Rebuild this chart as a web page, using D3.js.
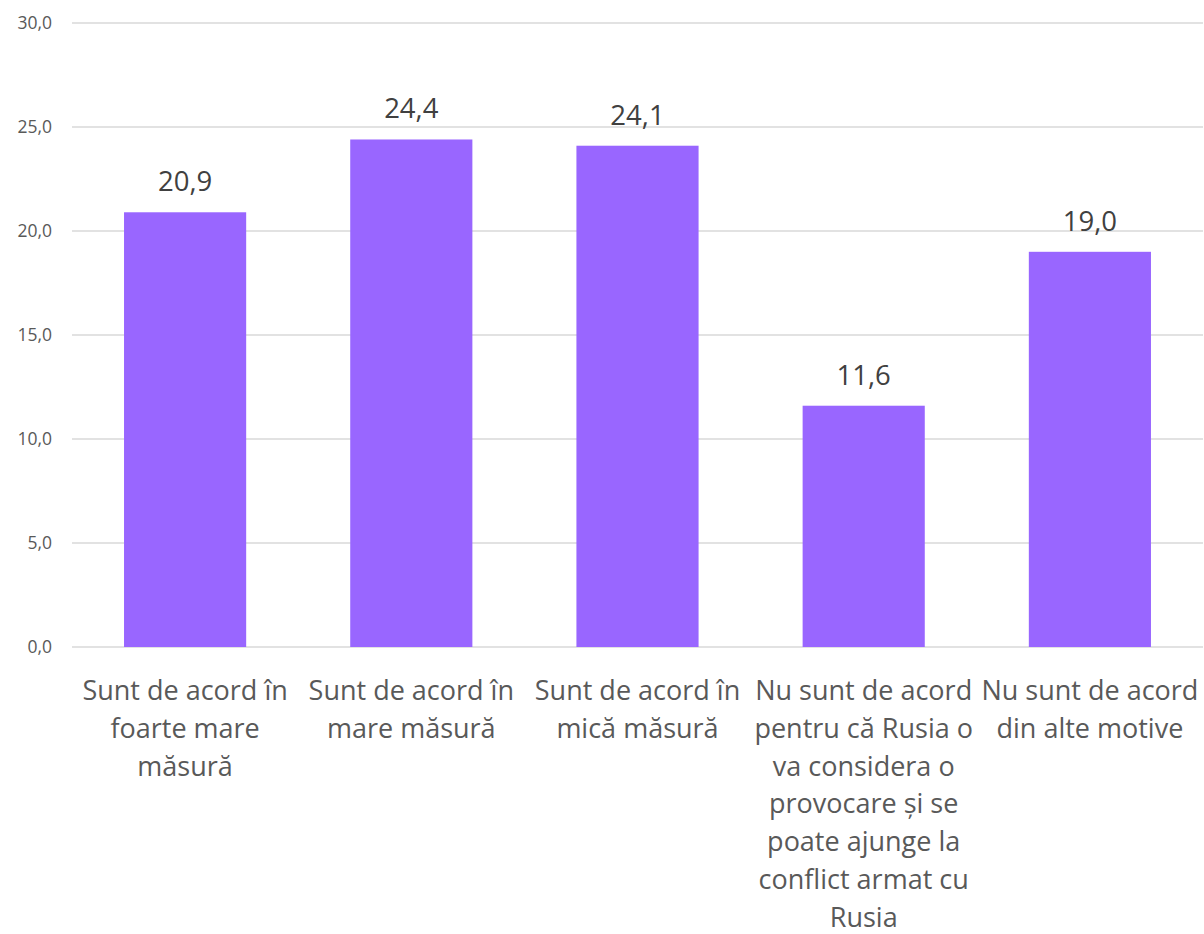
<!DOCTYPE html>
<html><head><meta charset="utf-8">
<script src="https://cdn.jsdelivr.net/npm/d3@7"></script>
<style>html,body{margin:0;padding:0;background:#fff}</style>
</head><body>
<svg id="c" width="1204" height="934"></svg>
<script>
const categories = [
  ["Sunt de acord în", "foarte mare", "măsură"],
  ["Sunt de acord în", "mare măsură"],
  ["Sunt de acord în", "mică măsură"],
  ["Nu sunt de acord", "pentru că Rusia o", "va considera o", "provocare și se", "poate ajunge la", "conflict armat cu", "Rusia"],
  ["Nu sunt de acord", "din alte motive"]
];
const values = [20.9, 24.4, 24.1, 11.6, 19.0];
const yTicks = [0, 5, 10, 15, 20, 25, 30];

(function () {
const svg = d3.select("#c");
const font = "'Open Sans', sans-serif";
const textColor = "#595959";
const mLeft = 72, mRight = 1203, mTop = 23, mBottom = 647;

const x = d3.scaleBand().domain(d3.range(values.length)).range([mLeft, mRight]).paddingInner(0.46).paddingOuter(0.23);
const y = d3.scaleLinear().domain([0, 30]).range([mBottom, mTop]);

const fmt = v => v.toFixed(1).replace(".", ",");

svg.append("g").selectAll("line").data(yTicks).join("line")
  .attr("x1", mLeft).attr("x2", mRight)
  .attr("y1", d => y(d)).attr("y2", d => y(d))
  .attr("stroke", "#d9d9d9").attr("stroke-width", 1.3);

const yAxis = d3.axisLeft(y).tickValues(yTicks).tickFormat(fmt).tickSize(0).tickPadding(20);
const ga = svg.append("g").attr("transform", `translate(${mLeft},0)`).call(yAxis);
ga.select(".domain").remove();
ga.selectAll("text").attr("font-family", font).attr("font-size", 17.5).attr("fill", textColor);

svg.append("g").selectAll("rect").data(values).join("rect")
  .attr("x", (d, i) => x(i)).attr("width", x.bandwidth())
  .attr("y", d => y(d)).attr("height", d => mBottom - y(d))
  .attr("fill", "#9966ff");

svg.append("g").selectAll("text").data(values).join("text")
  .attr("x", (d, i) => x(i) + x.bandwidth() / 2)
  .attr("y", d => y(d) - 21)
  .attr("text-anchor", "middle")
  .attr("font-family", font).attr("font-size", 27.5).attr("fill", "#404040")
  .text(fmt);

const cx = d3.scaleBand().domain(d3.range(values.length)).range([mLeft, mRight]);
const cg = svg.append("g");
categories.forEach((lines, i) => {
  const t = cg.append("text")
    .attr("x", cx(i) + cx.bandwidth() / 2)
    .attr("y", 700)
    .attr("text-anchor", "middle")
    .attr("font-family", font).attr("font-size", 27).attr("fill", textColor);
  lines.forEach((l, j) => {
    t.append("tspan").attr("x", cx(i) + cx.bandwidth() / 2).attr("dy", j === 0 ? 0 : 37.8).text(l);
  });
});
})();
</script>
</body></html>
